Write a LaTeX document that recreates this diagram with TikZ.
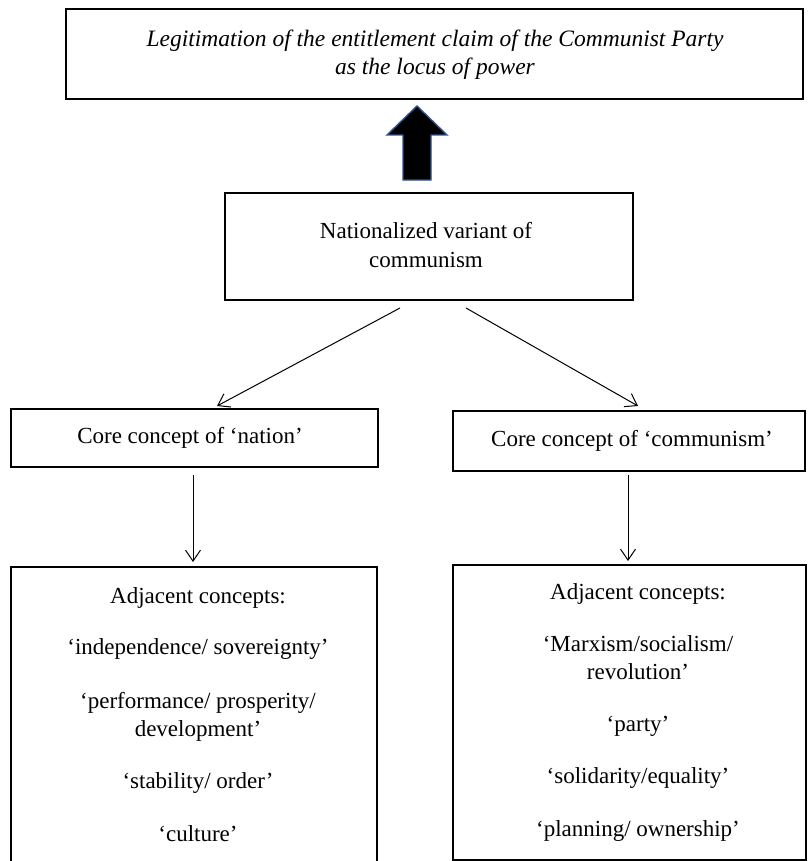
\documentclass[tikz,border=0pt]{standalone}
\usepackage{fontspec}
\setmainfont{Liberation Serif}
\usetikzlibrary{arrows.meta}
\definecolor{arrowblue}{HTML}{2F528F}
\begin{document}
\begin{tikzpicture}[x=1pt,y=-1pt,
  box/.style={draw=black,line width=1.6pt,inner sep=0pt,minimum width=#1},
  txt/.style={align=center,inner sep=0pt,font=\fontsize{23}{28}\selectfont},
  conn/.style={line width=1pt,-{Straight Barb[length=11pt,width=15pt,line width=1pt]}}]
\useasboundingbox (0,0) rectangle (807,861);
% top box
\node[box=737pt,minimum height=90pt] (top) at (434.5,54) {};
\node[txt,font=\fontsize{23.5}{28}\selectfont\itshape] (toptext) at (435,55)
  {Legitimation of the entitlement claim of the Communist Party\\as the locus of power};
% block arrow
\draw[draw=arrowblue,fill=black,line width=1.4pt,line join=miter]
  (417,106) -- (447,135) -- (431,135) -- (431,180) -- (403,180) -- (403,135) -- (387,135) -- cycle;
% middle box
\node[box=408pt,minimum height=107pt] (mid) at (429,246.5) {};
\node[txt,font=\fontsize{23}{29}\selectfont] (midtext) at (426,245.5) {Nationalized variant of\\communism};
% core boxes
\node[box=367pt,minimum height=58pt] (lcore) at (194.5,438) {};
\node[txt] (lcoretext) at (190,438) {Core concept of ‘nation’};
\node[box=352pt,minimum height=60pt] (rcore) at (629,441) {};
\node[txt] (rcoretext) at (632,441) {Core concept of ‘communism’};
% connectors from middle
\coordinate (ml) at (400,308);
\coordinate (mr) at (466,308);
\coordinate (lt) at (217,406);
\coordinate (rt) at (638,406);
\draw[conn] (ml) -- (lt);
\draw[conn] (mr) -- (rt);
% bottom boxes
\node[box=366pt,minimum height=310pt] (ladj) at (194,722) {};
\node[box=353pt,minimum height=295pt] (radj) at (629.5,712.5) {};
\coordinate (ls) at (193,475);
\coordinate (le) at (193,562);
\coordinate (rs) at (628,475);
\coordinate (re) at (628,561);
\draw[conn] (ls) -- (le);
\draw[conn] (rs) -- (re);
% bottom texts
\node[txt,anchor=north] (ladjtext) at (198,587) {Adjacent concepts:\\[23pt]
  ‘independence/ sovereignty’\\[26pt]
  ‘performance/ prosperity/\\development’\\[24pt]
  ‘stability/ order’\\[25pt]
  ‘culture’};
\node[txt,anchor=north] (radjtext) at (638,583) {Adjacent concepts:\\[24pt]
  ‘Marxism/socialism/\\revolution’\\[24pt]
  ‘party’\\[24pt]
  ‘solidarity/equality’\\[25pt]
  ‘planning/ ownership’};
\end{tikzpicture}
\end{document}
